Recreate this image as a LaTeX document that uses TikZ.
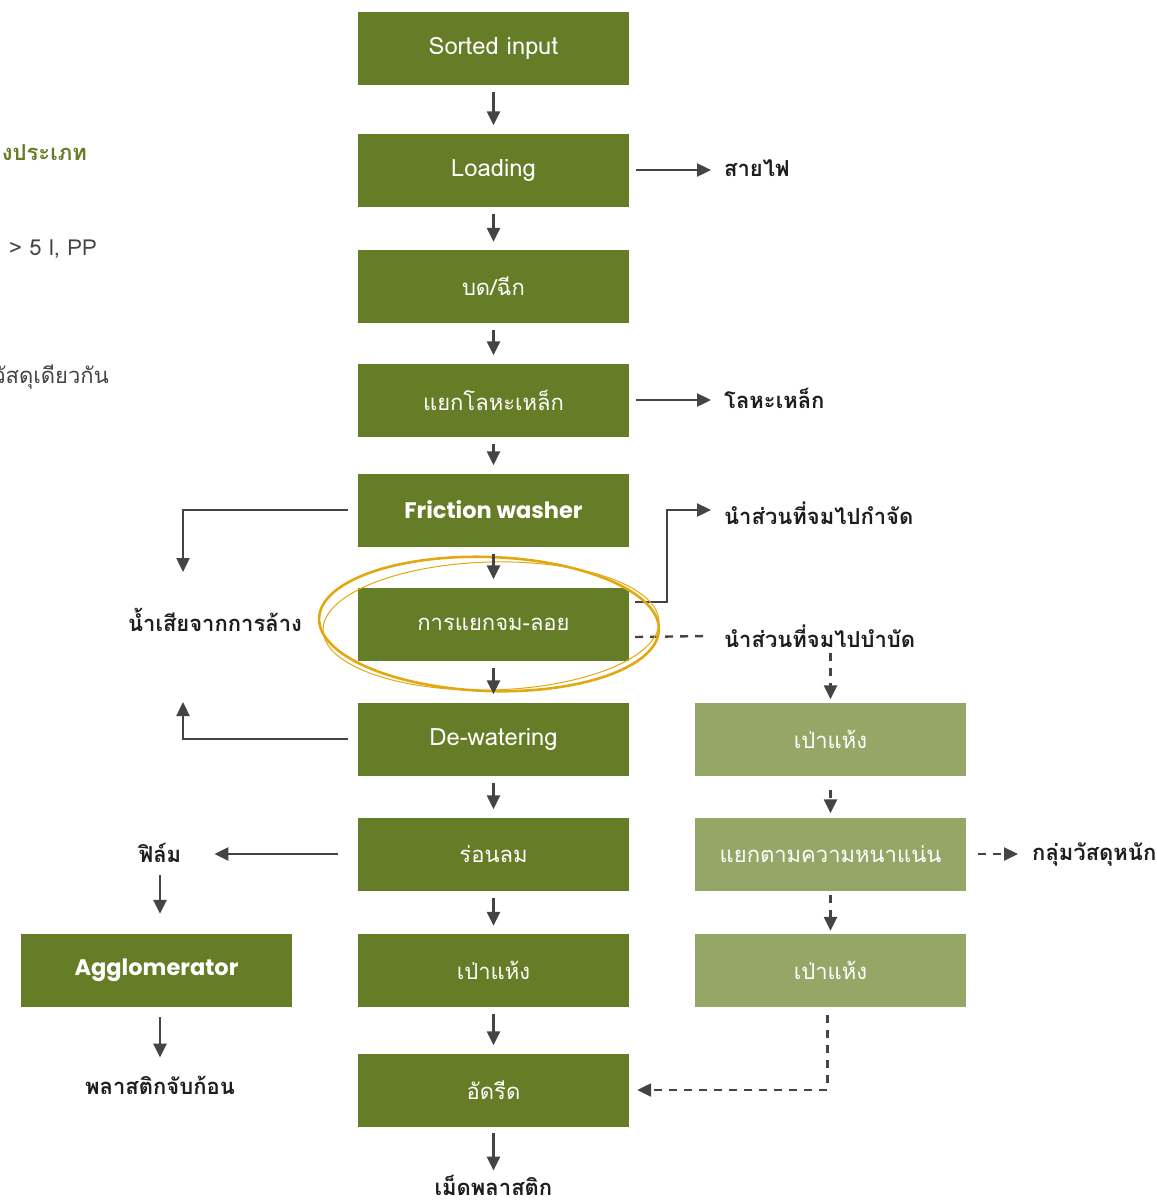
\documentclass[tikz,border=0pt]{standalone}
\usepackage{fontspec}
\setmainfont[Script=Thai]{Loma}
\newfontfamily\thai[Script=Thai]{Loma}
\newfontfamily\headfont{Poppins}
\usetikzlibrary{arrows.meta}
\definecolor{leaf}{HTML}{667D27}
\definecolor{sage}{HTML}{94A766}
\definecolor{ink}{HTML}{444444}
\definecolor{gold}{HTML}{E2A811}
\definecolor{textdark}{HTML}{1E1E1E}
\begin{document}
\begin{tikzpicture}[x=1pt,y=-1pt,
  procbox/.style={fill=leaf,text=white,minimum width=271pt,minimum height=73pt,
    inner sep=0pt,font=\thai\fontsize{22}{26}\selectfont},
  latinbox/.style={procbox,font=\thai\fontsize{23.8}{28}\selectfont},
  sidebox/.style={procbox,fill=sage},
  boldbox/.style={procbox,font=\headfont\bfseries\fontsize{22.5}{26}\selectfont},
  outlabel/.style={inner sep=0pt,text=textdark,font=\thai\bfseries\fontsize{22}{26}\selectfont},
  arr/.style={draw=ink,line width=2.4pt,-{Triangle[length=14pt,width=13pt]}},
  darr/.style={arr,dash pattern=on 8pt off 7pt},
  dline/.style={draw=ink,line width=2.4pt,dash pattern=on 8pt off 7pt},
  ring/.style={draw=gold}]
\useasboundingbox (0,0) rectangle (1157,1203);

% notes at the left edge
\node[anchor=east,inner sep=0pt,text=leaf,font=\thai\bfseries\fontsize{22}{26}\selectfont] (n1) at (87,153) {งประเภท};
\node[anchor=east,inner sep=0pt,text=ink,font=\thai\fontsize{22}{26}\selectfont] (n2) at (97,249) {> 5 l, PP};
\node[anchor=east,inner sep=0pt,text=ink,font=\thai\fontsize{22}{26}\selectfont] (n3) at (109,377) {วัสดุเดียวกัน};

% main process line
\node[latinbox] (s1) at (493.5,48) {Sorted input};
\node[latinbox] (s2) at (493.5,170) {Loading};
\node[procbox] (s3) at (493.5,286.5) {บด/ฉีก};
\node[procbox] (s4) at (493.5,400) {แยกโลหะเหล็ก};
\node[boldbox] (s5) at (493.5,510) {Friction washer};
\node[procbox] (s6) at (493.5,624) {การแยกจม-ลอย};
\node[latinbox] (s7) at (493.5,739) {De-watering};
\node[procbox] (s8) at (493.5,854) {ร่อนลม};
\node[procbox] (s9) at (493.5,970.5) {เป่าแห้ง};
\node[procbox] (s10) at (493.5,1090) {อัดรีด};
\node[outlabel] (pellet) at (493.5,1185) {เม็ดพลาสติก};

% sink fraction treatment line
\node[sidebox] (r1) at (830.5,739) {เป่าแห้ง};
\node[sidebox] (r2) at (830.5,854) {แยกตามความหนาแน่น};
\node[sidebox] (r3) at (830.5,970.5) {เป่าแห้ง};

% film line
\node[outlabel] (film) at (160,853) {ฟิล์ม};
\node[boldbox] (agg) at (156.5,970.5) {Agglomerator};
\node[outlabel] (lump) at (160,1085) {พลาสติกจับก้อน};

% side outputs
\node[outlabel,anchor=west] (wire) at (724,168) {สายไฟ};
\node[outlabel,anchor=west] (iron) at (724,398) {โลหะเหล็ก};
\node[outlabel,anchor=west] (dispose) at (724,513) {นำส่วนที่จมไปกำจัด};
\node[outlabel,anchor=west] (treat) at (724,636) {นำส่วนที่จมไปบำบัด};
\node[outlabel,anchor=west] (heavy) at (1032,854) {กลุ่มวัสดุหนัก};
\node[outlabel] (waste) at (215,620) {น้ำเสียจากการล้าง};
\coordinate (wasteA) at (183,572);
\coordinate (wasteB) at (183,702);

% side output arrows
\draw[arr] ([xshift=7pt]s2.east) -- ([xshift=-13pt]wire.west |- s2.east);
\draw[arr] ([xshift=7pt]s4.east) -- ([xshift=-13pt]iron.west |- s4.east);
\draw[arr] ([xshift=6pt,yshift=22pt]s6.east) -- ++(32pt,0) |- ([xshift=-13pt,yshift=3pt]dispose.west);
\draw[dline] ([xshift=6pt,yshift=-13pt]s6.east) -- ([xshift=-18pt]treat.west);

% highlight ring round the sink-float step
\draw[ring,line width=2.6pt,rotate around={-2:(489,624)}] (489,624) ellipse [x radius=170pt,y radius=67pt];
\draw[ring,line width=1pt,rotate around={1.5:(491,626)}] (491,626) ellipse [x radius=168pt,y radius=64pt];

% main flow arrows
\foreach \a/\b in {s1/s2,s2/s3,s3/s4,s4/s5,s5/s6,s6/s7,s7/s8,s8/s9,s9/s10}
  \draw[arr] ([yshift=-7pt]\a.south) -- ([yshift=8pt]\b.north);
\draw[arr] ([yshift=-6pt]s10.south) -- ([yshift=4pt]pellet.north);

% treatment line arrows
\draw[darr] ([yshift=-5pt]treat.south -| r1.north) -- ([yshift=3pt]r1.north);
\draw[darr] ([yshift=-14pt]r1.south) -- ([yshift=4pt]r2.north);
\draw[darr] ([xshift=12pt]r2.east) -- ([xshift=-14pt]heavy.west);
\draw[darr] ([yshift=-4pt]r2.south) -- ([yshift=3pt]r3.north);
\draw[darr] ([xshift=-3pt,yshift=-8pt]r3.south) |- ([xshift=8pt]s10.east);

% wash water loops
\draw[arr] ([xshift=-10pt]s5.west) -| (wasteA);
\draw[arr] ([xshift=-10pt]s7.west) -| (wasteB);

% film branch
\draw[arr] ([xshift=-20pt]s8.west) -- ([xshift=33pt]film.east |- s8.west);
\draw[arr] ([yshift=-12pt]film.south) -- ([yshift=20pt]film.south |- agg.north);
\draw[arr] ([yshift=-10pt]film.south |- agg.south) -- ([yshift=18pt]lump.north);
\end{tikzpicture}
\end{document}
